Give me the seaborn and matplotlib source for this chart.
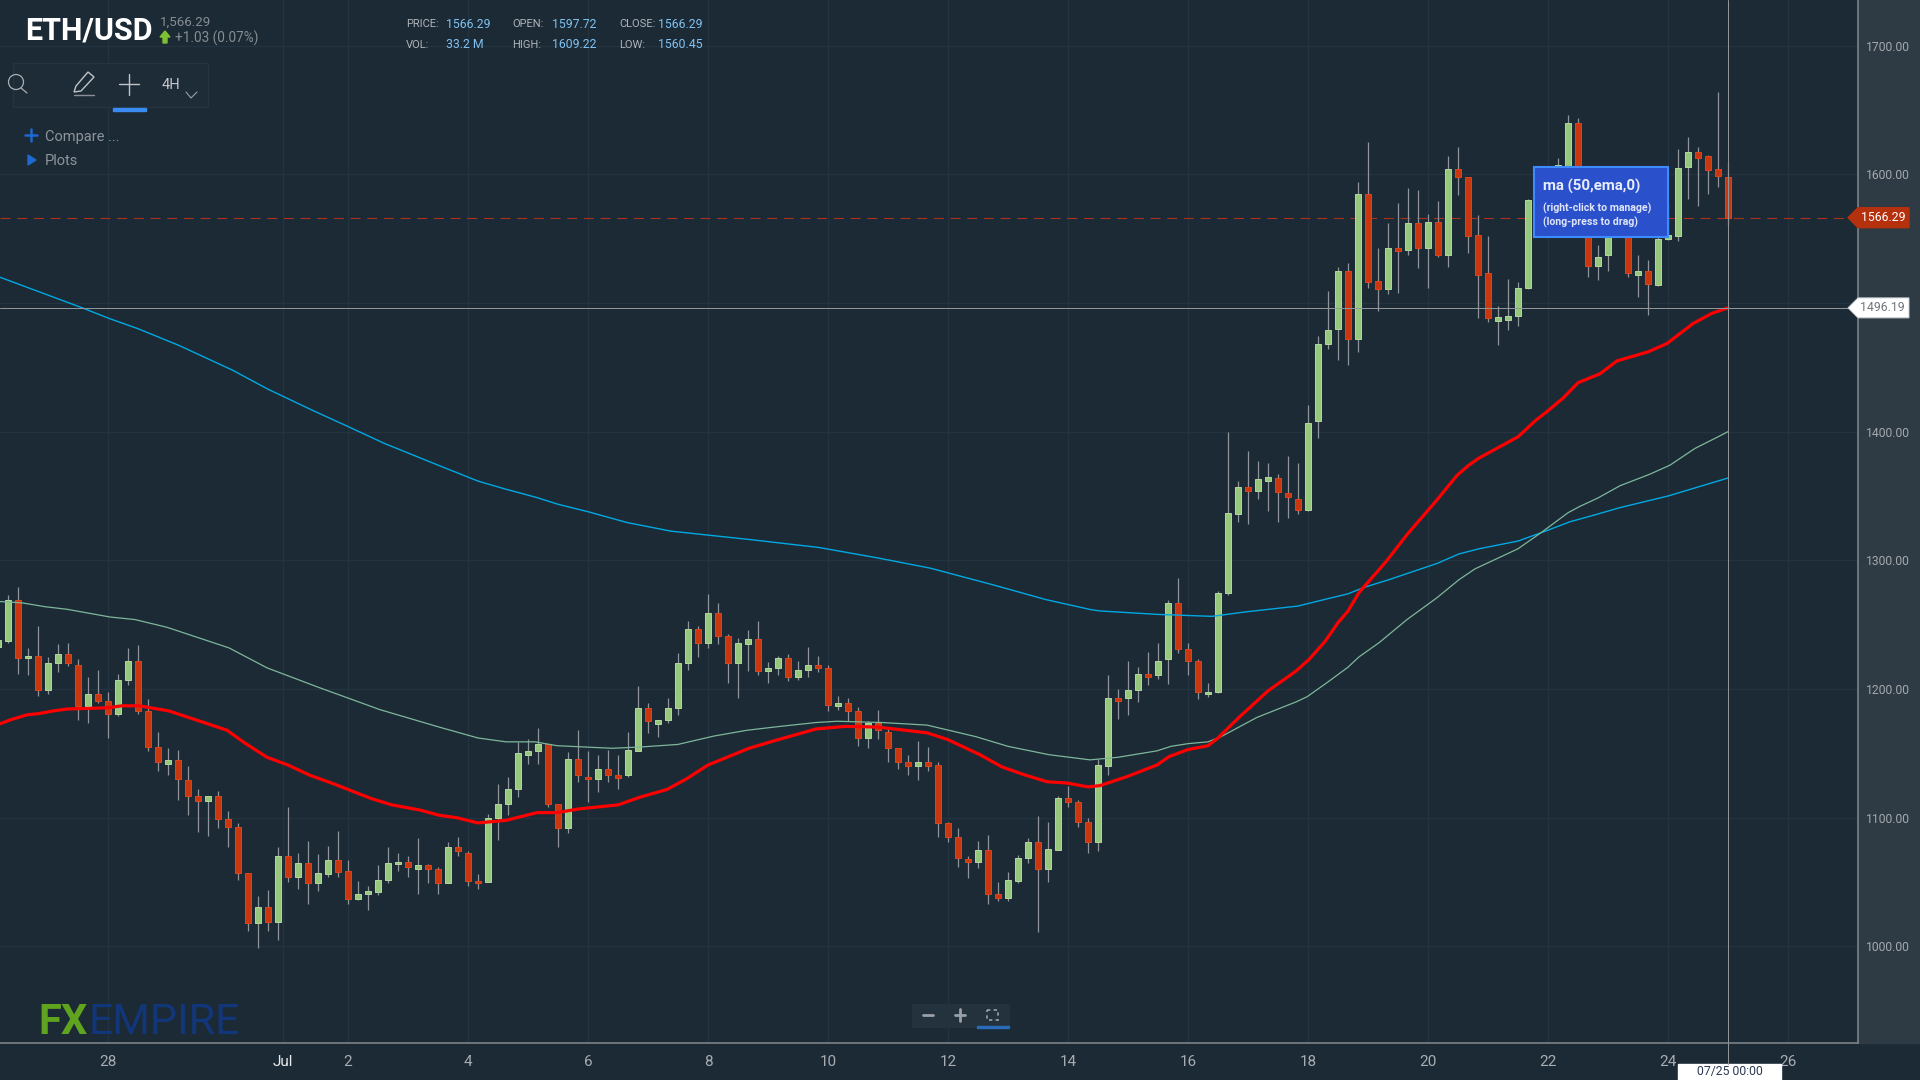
import numpy as np
import pandas as pd
import matplotlib
matplotlib.use('Agg')
import matplotlib.pyplot as plt
from matplotlib.patches import Rectangle, Polygon, Circle
import seaborn as sns

# 4H candles, oldest first, ending on 07/25 00:00
opens = [1233,1237,1269,1224,1226,1199,1220,1227,1219,1187,1196,1191,1181,1207,1222,1183,1155,1142,1145,1129,
         1117,1113,1117,1099,1093,1057,1018,1031,1019,1070,1054,1065,1049,1056,1067,1059,1037,1041,1042,1052,
         1064,1066,1060,1063,1060,1049,1077,1073,1051,1050,1100,1111,1122,1149,1152,1157,1111,1092,1146,1132,
         1130,1138,1133,1133,1152,1185,1173,1176,1185,1220,1247,1236,1259,1241,1220,1235,1239,1214,1216,1224,
         1209,1215,1219,1216,1187,1189,1183,1162,1174,1167,1154,1143,1140,1143,1141,1096,1085,1068,1066,1075,
         1041,1038,1051,1069,1081,1060,1075,1115,1112,1097,1081,1140,1193,1193,1199,1212,1211,1223,1267,1231,
         1222,1196,1198,1275,1336,1357,1354,1362,1364,1352,1348,1339,1408,1468,1480,1525,1472,1585,1517,1511,
         1543,1541,1562,1543,1563,1537,1604,1598,1553,1523,1486,1487,1490,1512,1580,1565,1596,1605,1640,1596,
         1529,1537,1565,1585,1522,1525,1514,1550,1552,1606,1617,1614,1604,1597.72]
closes = [1238,1269,1224,1226,1199,1220,1227,1220,1187,1196,1191,1181,1207,1222,1183,1155,1143,1145,1130,1117,
          1113,1117,1099,1093,1057,1018,1031,1019,1070,1054,1065,1049,1057,1067,1058,1037,1041,1043,1052,1065,
          1066,1062,1063,1060,1049,1077,1074,1051,1049,1100,1111,1122,1150,1152,1157,1111,1092,1146,1133,1130,
          1138,1133,1131,1153,1185,1175,1176,1185,1220,1247,1236,1259,1241,1220,1236,1239,1214,1216,1224,1209,
          1215,1219,1216,1188,1189,1183,1162,1174,1168,1154,1143,1140,1143,1140,1096,1085,1069,1066,1075,1041,
          1038,1052,1069,1081,1060,1076,1115,1112,1097,1081,1141,1193,1191,1199,1212,1209,1222,1267,1231,1222,
          1198,1198,1275,1337,1357,1354,1363,1365,1353,1349,1339,1407,1468,1479,1525,1472,1585,1516,1511,1543,
          1540,1562,1543,1563,1537,1604,1598,1552,1522,1488,1489,1490,1512,1580,1565,1596,1607,1640,1596,1529,
          1536,1565,1585,1523,1525,1515,1550,1553,1605,1617,1613,1603,1599,1566.29]
highs = [1239,1273,1279,1232,1249,1225,1235,1236,1223,1209,1215,1198,1212,1232,1234,1192,1167,1154,1153,1140,
         1122,1117,1121,1105,1096,1057,1039,1044,1077,1108,1073,1082,1072,1078,1090,1067,1051,1047,1063,1077,
         1073,1070,1084,1064,1062,1081,1085,1074,1056,1103,1126,1132,1159,1161,1170,1157,1111,1151,1168,1152,
         1149,1153,1149,1167,1202,1189,1176,1193,1228,1253,1249,1274,1267,1243,1240,1246,1253,1221,1226,1227,
         1222,1233,1226,1219,1195,1193,1186,1175,1184,1169,1154,1149,1160,1155,1143,1097,1092,1070,1082,1087,
         1050,1058,1071,1084,1101,1097,1117,1125,1114,1100,1146,1211,1200,1222,1217,1229,1236,1269,1286,1236,
         1223,1205,1276,1400,1362,1385,1377,1376,1367,1381,1376,1421,1474,1509,1528,1531,1594,1625,1543,1562,
         1578,1589,1588,1569,1579,1614,1621,1598,1568,1552,1498,1519,1516,1581,1584,1600,1613,1646,1644,1599,
         1545,1571,1589,1587,1537,1533,1553,1577,1620,1629,1621,1615,1664,1609.22]
lows = [1231,1236,1212,1211,1195,1196,1213,1218,1176,1174,1189,1162,1179,1203,1181,1152,1136,1133,1114,1102,
        1089,1086,1092,1077,1052,1012,999,1012,1005,1050,1045,1033,1043,1054,1054,1033,1036,1028,1040,1049,
        1059,1054,1041,1049,1041,1049,1070,1047,1045,1050,1083,1102,1116,1142,1142,1108,1077,1088,1128,1112,
        1120,1128,1122,1132,1152,1166,1163,1174,1180,1215,1225,1232,1235,1205,1193,1214,1211,1205,1211,1206,
        1207,1209,1213,1183,1184,1175,1156,1154,1161,1143,1138,1133,1129,1136,1085,1081,1062,1053,1061,1033,
        1035,1035,1049,1065,1011,1050,1075,1108,1093,1073,1074,1133,1177,1180,1190,1203,1208,1204,1228,1211,
        1192,1194,1197,1273,1330,1328,1348,1338,1330,1333,1336,1338,1395,1464,1456,1452,1462,1512,1494,1507,
        1508,1537,1527,1512,1536,1528,1584,1539,1488,1485,1467,1479,1482,1511,1560,1563,1591,1600,1590,1520,
        1518,1525,1563,1520,1505,1491,1513,1549,1548,1581,1575,1585,1590,1560.45]

# moving averages, read at these bar numbers
ema50_bars = [0.2,1.2,2.9,4.1,5.5,6.9,9,11,12.4,14.1,17.1,20.6,22.9,24.7,26.9,29,31.2,33.7,37.3,39.4,42.2,44.1,45.9,48,
              50.8,53.9,55.9,58.2,62,64.2,66.9,68.8,71,72.9,75.1,77.7,81.8,84.7,88,92.9,94.9,98.2,100.4,102.6,104.9,
              106.9,109,110.2,112.9,115.9,117.1,119,121,122,124.1,127,129.8,131.1,132.7,134,135,136.1,138.8,140.9,
              143.9,145.9,147,148.1,152,153.8,154.8,156.5,158,160.2,161.9,165,166.9,169.5,171.4,173]
ema50 = [1173,1176,1180,1181,1183,1184.5,1185,1185.5,1187,1187,1183,1174,1168,1158,1147,1141,1133,1126,1115,1110,1106,1102,1100,1096,
         1098,1104,1104,1107,1110,1116,1122,1130,1141,1147,1154,1160,1169,1171,1170.5,1166,1161,1149,1139.5,1133.5,1128,
         1127,1124,1125,1132,1141,1147.5,1153,1156,1162,1178,1198.6,1214,1223,1237,1251.6,1260.6,1275,1299,1320,
         1347,1366,1373.5,1379.5,1396,1409,1415,1426,1438,1445,1455,1462,1468.5,1484,1492,1496.19]

ma100_bars = [0.2,2.4,4.7,6.9,11.2,13.7,16.9,23.1,26.9,32,38.2,44.1,48,50.8,53.7,55.9,61.4,64.3,68,71.6,74.9,78.2,81.8,83.9,
              88.4,92.9,97.8,101,105.1,109.2,112,115.9,117.3,119,121,122.3,125.9,129.8,130.9,132.9,135,136.1,138.1,140.9,
              143.9,146.1,147.7,152,154.5,157,158.2,160,162.2,165.2,167.2,169.7,172,173]
ma100 = [1268,1267,1264,1262,1256,1254,1248,1232,1216.5,1201.5,1184,1170.5,1162,1159,1159,1156,1154,1155,1157,1163.5,1168,1171,1174,1175,
         1174,1172,1163,1155.5,1149,1145,1147,1152,1155.5,1157.6,1159,1163,1178,1190,1194,1205,1217,1225,1236,1254,
         1271,1285,1293.4,1309,1322.6,1337,1342,1348.5,1358,1367,1374,1387,1396,1400]

ma200_bars = [0.2,4,8.5,11.1,14,18.1,23.4,27,31.5,35,38.6,44,48,50.6,53.8,56,59.1,62.9,67.3,75.4,82.1,87.9,93.2,99.5,104.8,
              109.3,110.2,116,121.4,124.8,130,132.7,135,136.6,139.1,143.9,146.1,148.1,152,154.5,157.2,159.8,162.2,167,173]
ma200 = [1520,1509,1496,1488,1480,1467,1448,1433,1416.4,1404,1391,1374,1361.6,1355.7,1349,1343.6,1337.6,1329.4,1322.7,1316,1310,1302,1294,1281,1269.5,
         1261.7,1260.7,1258,1256.5,1260,1264.5,1269.7,1274,1279,1285,1297.6,1305,1309,1315,1322,1330,1335.6,1341,1350,1364]

price_ticks = [1000, 1100, 1200, 1300, 1400, 1500, 1600, 1700]
price_labels = ['1000.00', '1100.00', '1200.00', '1300.00', '1400.00', '', '1600.00', '1700.00']
date_labels = ['28', 'Jul', '2', '4', '6', '8', '10', '12', '14', '16', '18', '20', '22', '24', '26']
date_bars = [11, 28.5, 35, 47, 59, 71, 83, 95, 107, 119, 131, 143, 155, 167, 179]

last_price = 1566.29
cross_price = 1496.19
cross_bar = 173

BG = '#1c2a36'
PANEL = '#2e3a44'
GRID = '#243340'
AXIS = '#7c8287'
WICK = '#8e9499'
UP = '#97c67d'
UP_EDGE = '#b3d79f'
DOWN = '#c9370f'
DOWN_EDGE = '#e2431a'

sns.set_theme(style='darkgrid', rc={'axes.facecolor': BG, 'figure.facecolor': BG})
plt.rcParams['font.family'] = ['Roboto', 'DejaVu Sans']

fig = plt.figure(figsize=(19.2, 10.8), dpi=100)
fig.patch.set_facecolor(BG)
ax = fig.add_axes([0, 37 / 1080, 1858 / 1920, 1043 / 1080])

df = pd.DataFrame({'open': opens, 'high': highs, 'low': lows, 'close': closes})
df['bar'] = np.arange(len(df))
df['top'] = df[['open', 'close']].max(axis=1)
df['bottom'] = df[['open', 'close']].min(axis=1)
up = df[df['close'] >= df['open']]
down = df[df['close'] < df['open']]

ax.vlines(df['bar'], df['low'], df['high'], color=WICK, linewidth=0.9, zorder=2)
ax.bar(up['bar'], up['top'] - up['bottom'], bottom=up['bottom'], width=0.6,
       color=UP, edgecolor=UP_EDGE, linewidth=0.7, zorder=3)
ax.bar(down['bar'], down['top'] - down['bottom'], bottom=down['bottom'], width=0.6,
       color=DOWN, edgecolor=DOWN_EDGE, linewidth=0.7, zorder=3)

sns.lineplot(x=ma200_bars, y=ma200, color='#00a9e2', linewidth=1.0, errorbar=None, ax=ax, zorder=4)
sns.lineplot(x=ma100_bars, y=ma100, color='#7db79a', linewidth=0.9, errorbar=None, ax=ax, zorder=4)
sns.lineplot(x=ema50_bars, y=ema50, color='#ff0000', linewidth=2.3, errorbar=None, ax=ax, zorder=5)

# crosshair and last price
ax.axhline(last_price, color='#a8321a', linewidth=0.8, dashes=(9, 6), zorder=1.5)
ax.axhline(cross_price, color='#8f9599', linewidth=0.72, zorder=6)
ax.axvline(cross_bar, color='#8f9599', linewidth=0.72, zorder=6)

ax.set_xlim(0.2, 186)
ax.set_ylim(925, 1735.4)
ax.set_xticks(date_bars)
ax.set_xticklabels(date_labels)
ax.set_yticks(price_ticks)
ax.set_yticklabels(price_labels)
ax.yaxis.tick_right()
ax.grid(True, color=GRID, linewidth=0.9)
ax.set_axisbelow(True)
ax.tick_params(axis='x', colors=AXIS, length=4.5, width=0.9, pad=4, labelsize=11, labelcolor='#a8adb2')
ax.tick_params(axis='y', colors=AXIS, length=2.5, width=0.9, pad=3, labelsize=8.7, labelcolor='#a4a9ad')
ax.get_xticklabels()[1].set_color('#e8eaec')
for tick_text in ax.get_yticklabels():
    tick_text.set_va('center_baseline')
sns.despine(ax=ax, left=True, top=True, right=False, bottom=False)
for side in ['right', 'bottom']:
    ax.spines[side].set_color(AXIS)
    ax.spines[side].set_linewidth(1.2)

# price axis panel sits behind the axes labels
fig.add_artist(Rectangle((1858 / 1920, 37 / 1080), 62 / 1920, 1043 / 1080,
                         transform=fig.transFigure, color=PANEL, zorder=-5))

# everything else is placed in screen pixels
ui = fig.add_axes([0, 0, 1, 1], zorder=10)
ui.set_xlim(0, 1920)
ui.set_ylim(1080, 0)
ui.axis('off')
ui.patch.set_alpha(0)


def screen_y(price):
    return 1080 - ax.transData.transform((0, price))[1]


def label(x, y, s, color='#9aa1a7', size=9, ha='left', weight='normal'):
    ui.text(x, y + 1, s, color=color, fontsize=size, ha=ha, va='center', fontweight=weight)


# header
label(25, 30, 'ETH/USD', color='white', size=22, weight='bold')
label(160, 21, '1,566.29', color='#868d93', size=9.6)
ui.add_patch(Polygon([(160, 37), (165, 31), (170, 37), (167, 37), (167, 43), (163, 43), (163, 37)], color='#7ec02f'))
label(175, 37, '+1.03 (0.07%)', color='#868d93', size=9.8)

stats = [(406, 23, 'PRICE:', 446, '1566.29'), (512, 23, 'OPEN:', 552, '1597.72'), (619, 23, 'CLOSE:', 658, '1566.29'),
         (406, 44, 'VOL:', 446, '33.2 M'), (512, 44, 'HIGH:', 552, '1609.22'), (619, 44, 'LOW:', 658, '1560.45')]
for x0, y0, name, x1, val in stats:
    label(x0, y0, name, color='#aeb4b9', size=8.0)
    label(x1, y0, val, color='#7fc2f2', size=8.8)

# toolbar
ui.add_patch(Rectangle((13, 63), 195, 44, facecolor='#1e2c38', edgecolor='#26343f', linewidth=0.9))
ui.add_patch(Circle((16, 82), 7.5, fill=False, edgecolor='#a9aeb2', linewidth=0.9))
ui.plot([21, 27], [88, 93], color='#a9aeb2', linewidth=0.9)
ui.add_patch(Polygon([(74, 92), (76, 86), (88, 72), (94, 77), (81, 91)], fill=False, edgecolor='#c0c4c7', linewidth=1.0))
ui.plot([74, 94], [95, 95], color='#8a9095', linewidth=1.0)
ui.plot([129, 129], [74, 95], color='#c0c4c7', linewidth=1.0)
ui.plot([119, 139], [84, 84], color='#c0c4c7', linewidth=1.0)
ui.add_patch(Rectangle((113, 108), 33, 3, color='#3a8cf2'))
label(171, 84, '4H', color='#c4c8cb', size=10.5, ha='center')
ui.plot([186, 191, 197], [92, 98, 92], color='#9aa0a5', linewidth=0.8)

ui.plot([25, 37], [135, 135], color='#1f68d0', linewidth=1.8)
ui.plot([31, 31], [129, 141], color='#1f68d0', linewidth=1.8)
label(45, 136, 'Compare ...', color='#8d949a', size=10.5)
ui.add_patch(Polygon([(28, 155), (36, 160), (28, 165)], color='#1f68d0'))
label(45, 160, 'Plots', color='#8d949a', size=10.5)

# tooltip for the ema
ui.add_patch(Rectangle((1534, 167), 134, 70, facecolor='#2b50cc', edgecolor='#3d8bff', linewidth=1.5))
label(1543, 185, 'ma (50,ema,0)', color='#e8edfb', size=10.8, weight='bold')
label(1543, 207, '(right-click to manage)', color='#dfe6fa', size=7.6, weight='bold')
label(1543, 221, '(long-press to drag)', color='#dfe6fa', size=7.6, weight='bold')

# price tags on the axis
y_last = screen_y(last_price)
ui.add_patch(Polygon([(1848, y_last), (1858, y_last - 10), (1909, y_last - 10), (1909, y_last + 10), (1858, y_last + 10)],
                     color='#b5300d'))
label(1905, y_last - 1, '1566.29', color='white', size=8.8, ha='right')
y_cross = screen_y(cross_price)
ui.add_patch(Polygon([(1848, y_cross), (1858, y_cross - 10), (1909, y_cross - 10), (1909, y_cross + 10), (1858, y_cross + 10)],
                     facecolor='white', edgecolor='#c8cccf', linewidth=0.7))
label(1905, y_cross - 1, '1496.19', color='#6f767c', size=8.8, ha='right')

# logo
label(38, 1022, 'FX', color='#5fa31f', size=30, weight='bold')
label(88, 1022, 'EMPIRE', color='#12367a', size=31)

# zoom control
ui.add_patch(Rectangle((912, 1004), 97, 23, color='#24323e'))
ui.plot([923, 933], [1015, 1015], color='#9aa0a5', linewidth=2)
ui.plot([955, 965], [1015, 1015], color='#9aa0a5', linewidth=2)
ui.plot([960, 960], [1009, 1021], color='#9aa0a5', linewidth=2)
ui.add_patch(Rectangle((987, 1010), 11, 10, fill=False, edgecolor='#9aa0a5', linewidth=1.2, linestyle=(0, (2, 2))))
ui.add_patch(Rectangle((977, 1026), 32, 2, color='#2a6bb8'))

# date tag under the crosshair
ui.plot([1728, 1728], [1043, 1064], color='#8f9599', linewidth=0.72)
ui.add_patch(Rectangle((1678, 1064), 103, 16, color='white'))
label(1729.5, 1071, '07/25 00:00', color='#2b3a55', size=8.8, ha='center')

fig.savefig('out.png', dpi=100, facecolor=fig.get_facecolor())
